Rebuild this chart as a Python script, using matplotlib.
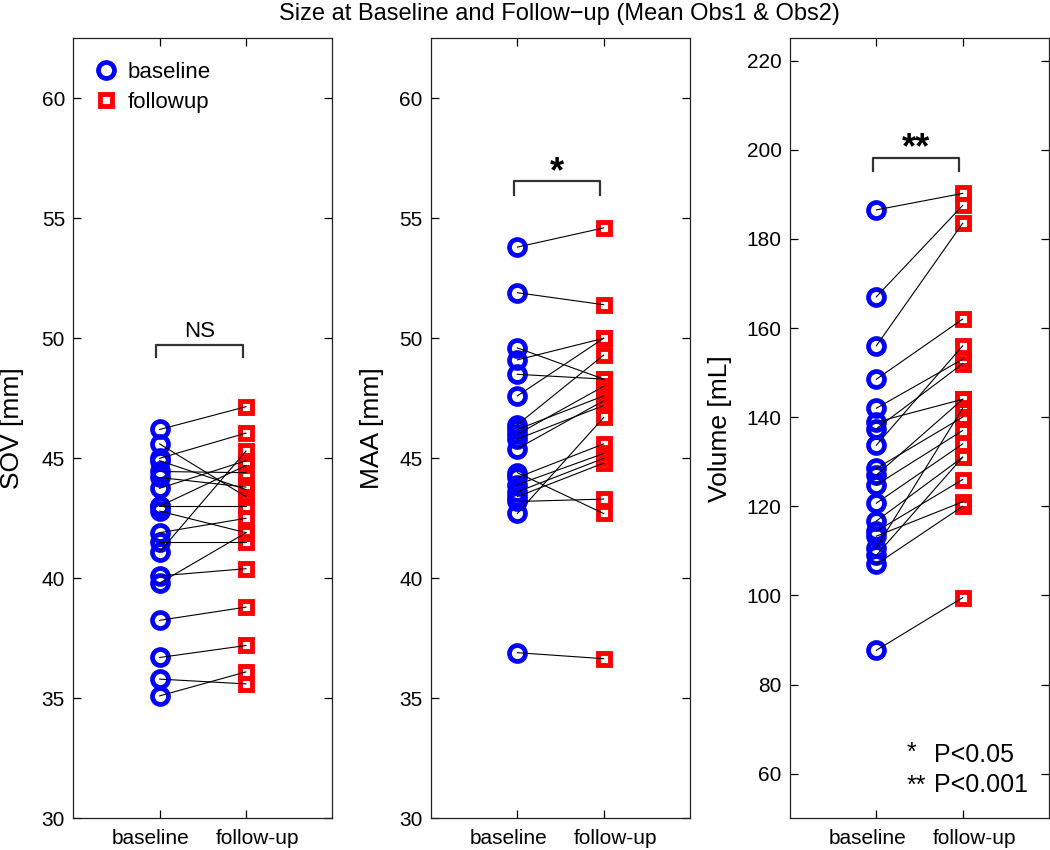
import numpy as np
import matplotlib
matplotlib.use("Agg")
import matplotlib.pyplot as plt
import matplotlib.transforms as mtransforms

plt.rcParams['font.family'] = ['Liberation Sans', 'DejaVu Sans']

# ----------------------
# Data (baseline -> follow-up pairs per subject)
# ----------------------
sov_base = [46.2, 45.6, 45.0, 44.9, 44.45, 44.2, 43.75, 43.0, 43.0, 42.8,
            41.9, 41.5, 41.1, 40.1, 39.8, 38.25, 36.7, 35.8, 35.1]
sov_follow = [47.15, 43.4, 46.05, 43.7, 44.4, 43.8, 44.9, 44.7, 43.0, 41.9,
              42.5, 41.5, 45.3, 40.4, 41.9, 38.8, 37.2, 35.6, 36.1]

maa_base = [53.8, 51.9, 49.6, 49.1, 48.5, 47.6, 46.4, 46.2, 46.0, 45.8,
            45.4, 44.4, 44.2, 43.9, 43.6, 43.4, 43.2, 42.7, 36.9]
maa_follow = [54.6, 51.4, 48.3, 50.0, 48.3, 50.0, 49.3, 47.6, 48.0, 47.2,
              47.4, 42.7, 45.6, 45.2, 45.0, 44.8, 43.3, 46.7, 36.65]

vol_base = [186.5, 167.0, 156.0, 148.5, 142.0, 138.9, 137.4, 133.7, 128.5, 127.0,
            124.8, 120.7, 116.7, 114.4, 113.3, 110.7, 109.0, 107.0, 87.7]
vol_follow = [190.2, 187.5, 183.5, 162.0, 153.0, 144.0, 152.0, 156.0, 140.0, 144.0,
              137.0, 134.0, 131.0, 126.0, 121.0, 142.0, 131.0, 120.0, 99.5]

group_labels = ['baseline', 'follow-up']
panel_ylabels = ['SOV [mm]', 'MAA [mm]', 'Volume [mL]']
panel_sig = ['NS', '*', '**']


# ----------------------
# One panel
# ----------------------
def plot_panel(ax, base, follow, ylim, yticks, ylabel, sig, sig_y, sig_drop, text_y, label_x):
    base = np.asarray(base)
    follow = np.asarray(follow)
    xb = np.ones_like(base)
    xf = np.full_like(follow, 2.0)

    ax.plot(xb, base, 'o', ms=11.5, mew=3.4, mec='#0000ff', mfc='none',
            label='baseline', zorder=2)
    ax.plot(xf, follow, 's', ms=9, mew=3.5, mec='#ff0000', mfc='none',
            label='followup', zorder=2)
    for b, f in zip(base, follow):
        ax.plot([1, 2], [b, f], color='black', lw=0.8, zorder=3)

    # significance bracket
    ax.plot([0.96, 0.96, 1.96, 1.96], [sig_y - sig_drop, sig_y, sig_y, sig_y - sig_drop],
            color='#333333', lw=1.6)
    if sig == 'NS':
        ax.text(1.46, text_y, sig, ha='center', va='baseline', fontsize=16)
    else:
        ax.text(1.46, text_y, sig, ha='center', va='baseline',
                fontsize=26, fontweight='bold')

    ax.set_xlim(0, 3)
    ax.set_ylim(*ylim)
    ax.set_xticks([1, 2])
    ax.set_xticklabels(group_labels, fontsize=14.5)
    ax.set_yticks(yticks)
    ax.tick_params(axis='both', direction='in', length=6, width=0.9,
                   top=True, right=True, labelsize=15, pad=6)
    ax.tick_params(axis='x', pad=8)
    # spread the two category labels a little, as in the original
    for lab, dx in zip(ax.get_xticklabels(), (-9, 12)):
        lab.set_transform(lab.get_transform() +
                          mtransforms.ScaledTranslation(dx / 100, 0, ax.figure.dpi_scale_trans))
    ax.set_ylabel(ylabel, fontsize=19)
    ax.yaxis.set_label_coords(label_x, 0.5)
    for sp in ax.spines.values():
        sp.set_linewidth(0.9)
        sp.set_color('#222222')


fig = plt.figure(figsize=(10.5, 8.5), dpi=100)
W, H = 1050.0, 850.0
bottom = (H - 818.3) / H
height = 780.0 / H
width = 259.0 / W
lefts = [73.3 / W, 431.0 / W, 790.0 / W]

ax1 = fig.add_axes([lefts[0], bottom, width, height])
ax2 = fig.add_axes([lefts[1], bottom, width, height])
ax3 = fig.add_axes([lefts[2], bottom, width, height])

plot_panel(ax1, sov_base, sov_follow, (30, 62.5), np.arange(30, 61, 5),
           panel_ylabels[0], panel_sig[0], 49.72, 0.5, 50.05, -0.19)
plot_panel(ax2, maa_base, maa_follow, (30, 62.5), np.arange(30, 61, 5),
           panel_ylabels[1], panel_sig[1], 56.55, 0.58, 56.5, -0.18)
plot_panel(ax3, vol_base, vol_follow, (50, 225), np.arange(60, 221, 20),
           panel_ylabels[2], panel_sig[2], 198.2, 2.9, 198.0, -0.225)

ax1.legend(loc='upper left', bbox_to_anchor=(0.0, 0.995), frameon=False,
           fontsize=16, numpoints=1, handlelength=1.1, handletextpad=0.45,
           labelspacing=0.4, borderaxespad=0.5)

# p-value key
ax3.text(0.45, 0.075, '*', transform=ax3.transAxes, fontsize=18, va='baseline')
ax3.text(0.555, 0.072, 'P<0.05', transform=ax3.transAxes, fontsize=18, va='baseline')
ax3.text(0.45, 0.033, '**', transform=ax3.transAxes, fontsize=18, va='baseline')
ax3.text(0.555, 0.034, 'P<0.001', transform=ax3.transAxes, fontsize=18, va='baseline')

fig.suptitle('Size at Baseline and Follow\u2212up (Mean Obs1 & Obs2)',
             x=0.533, y=1 - 14 / H, va='center', fontsize=17)

fig.savefig('out.png', dpi=100)
